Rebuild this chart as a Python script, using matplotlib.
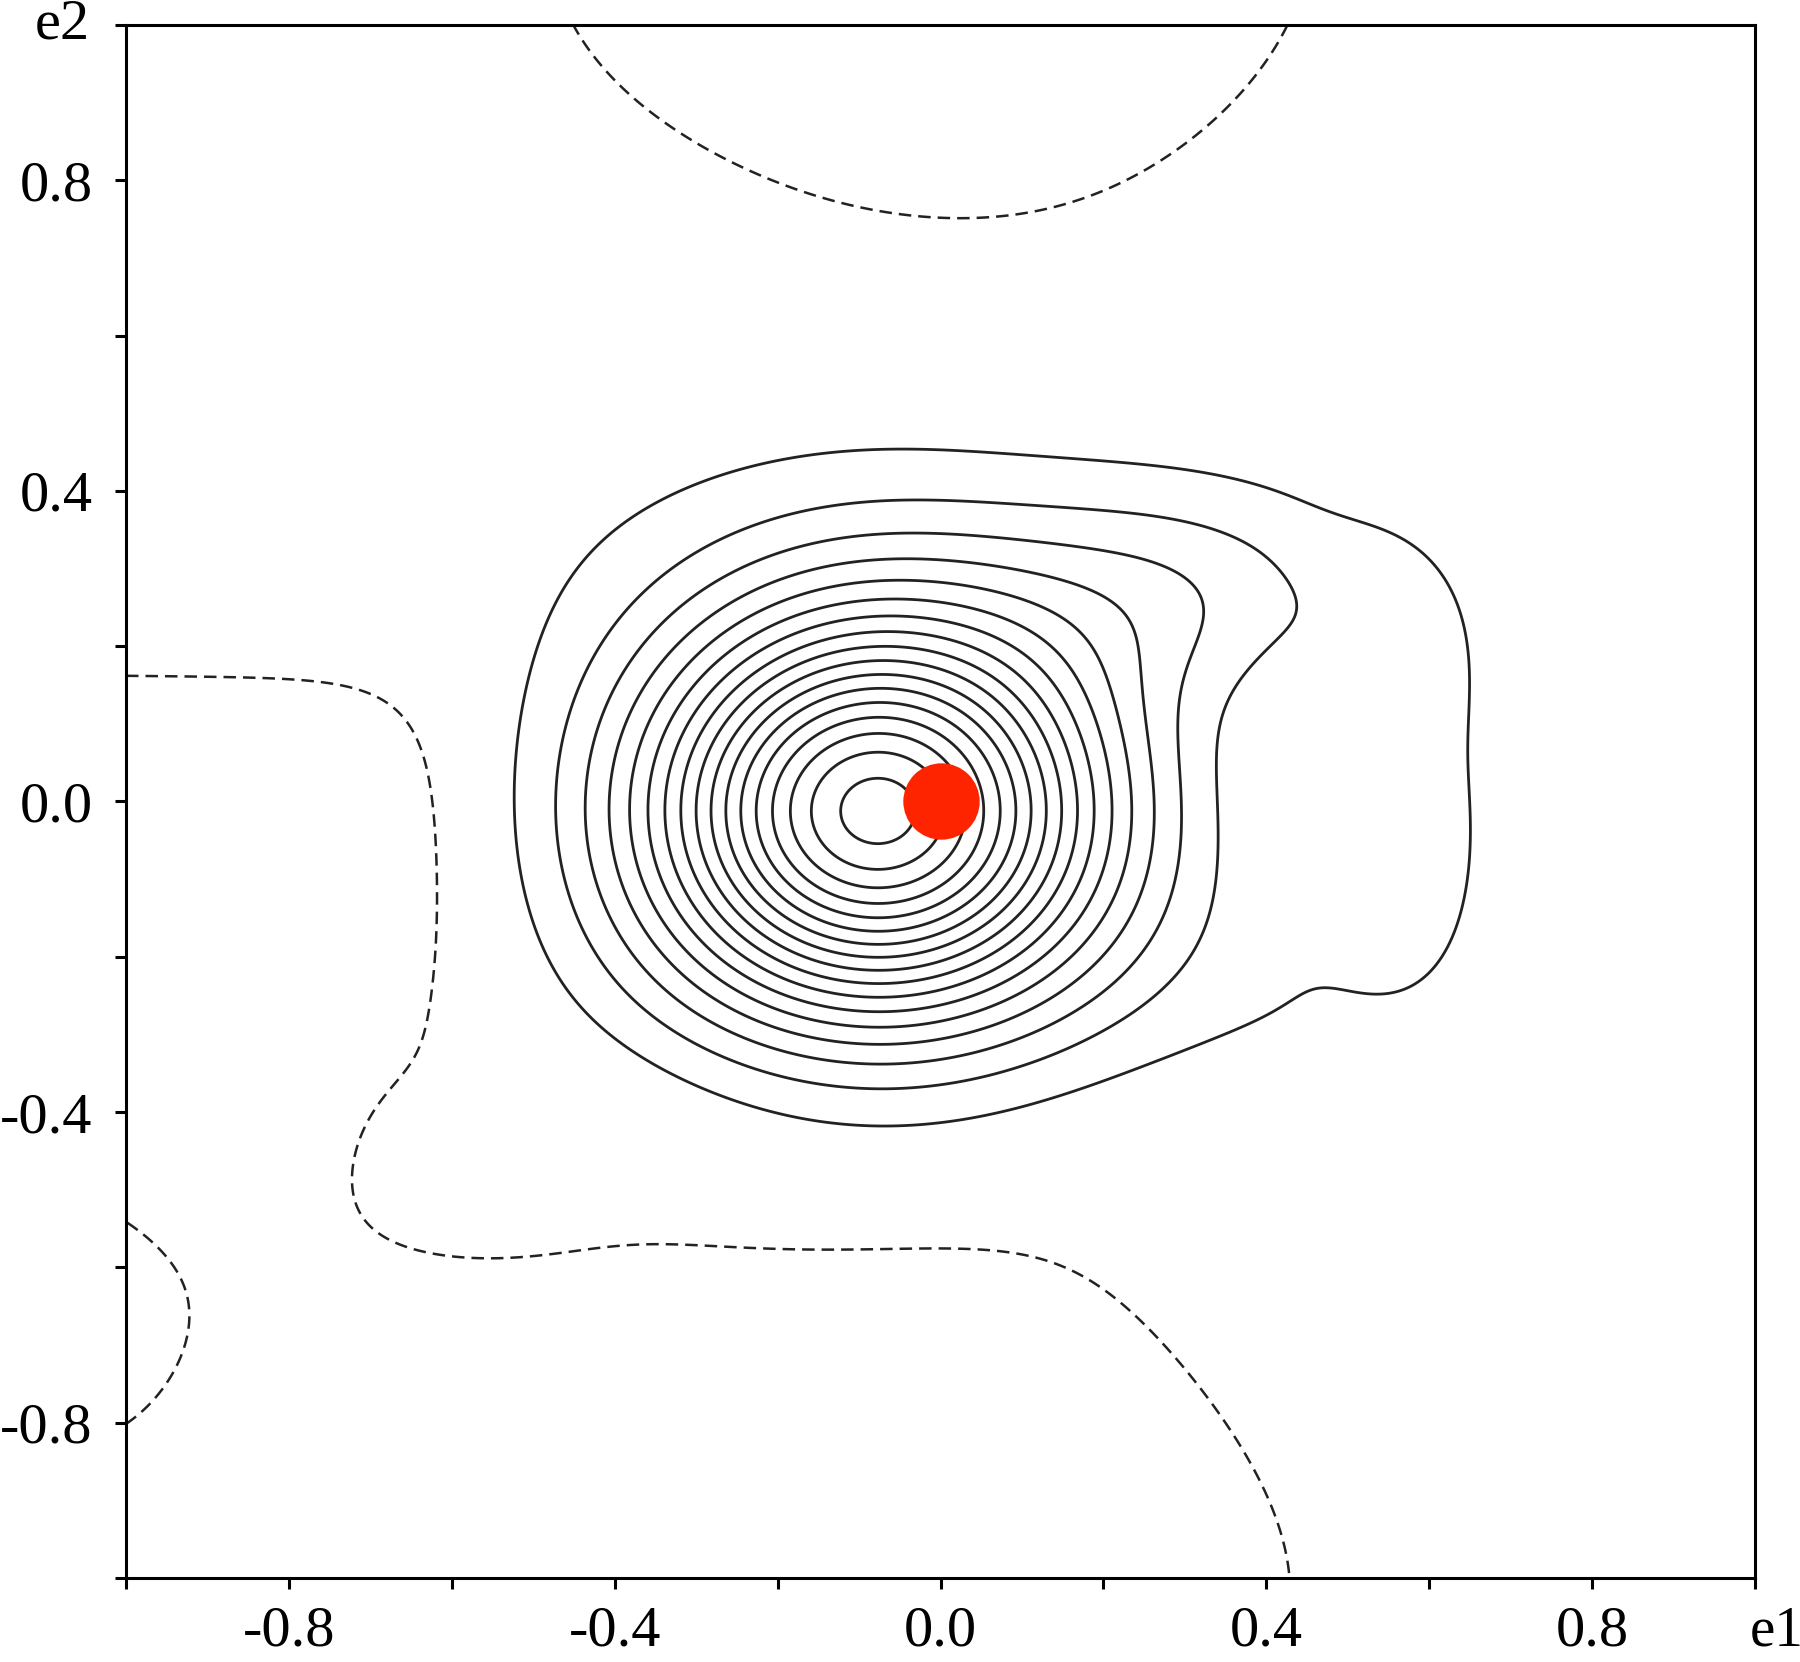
import numpy as np
import matplotlib
matplotlib.use("Agg")
import matplotlib.pyplot as plt

plt.rcParams['font.family'] = ['Liberation Serif', 'DejaVu Serif']

# ---- field description (sum of Gaussian-like components on the e1/e2 plane) ----
#            main    moat    B_ur   B_r    B_lr   B_top  N_bm   N_left   P_ul    N_top  N_bot  N_bot2 P_br  P_isl  N_ll    P_ll
comp_amp = [1.00,  -0.015,  0.12,  0.046, 0.028, 0.025, -0.02, -0.0467, 0.0437, -0.025, -0.03, -0.036, 0.03, 0.03, -0.025, 0.008]
comp_cx  = [-0.078, -0.078, 0.30, 0.57, 0.42, 0.00, -0.10, -1.10, -1.00, -0.01, -0.80, 0.10, 0.65, -1.05, -0.95, -0.60]
comp_cy  = [-0.013, -0.013, 0.27, 0.06, -0.22, 0.33, -0.38, 0.00, 0.40, 1.15, -0.95, -0.93, -0.55, -0.66, -0.42, -0.45]
comp_sx  = [0.195, 0.55, 0.17, 0.10, 0.18, 0.25, 0.30, 0.50, 0.45, 0.43, 0.35, 0.30, 0.28, 0.08, 0.12, 0.15]
comp_sy  = [0.178, 0.55, 0.10, 0.20, 0.12, 0.13, 0.08, 0.20, 0.20, 0.30, 0.30, 0.25, 0.28, 0.10, 0.12, 0.12]
comp_pow = [1, 1, 1, 2, 1, 1, 1, 1, 1, 1, 1, 1, 1, 1, 1, 1]
baseline = 0.015

level_step = 0.057
n_solid = 17
dashed_levels = [0.0]

dot_e1 = [0.0]
dot_e2 = [0.0]

tick_major = [-0.8, -0.4, 0.0, 0.4, 0.8]
tick_major_labels = ["-0.8", "-0.4", "0.0", "0.4", "0.8"]
tick_minor = [-1.0, -0.6, -0.2, 0.2, 0.6, 1.0]

# ---- grid ----
g = np.linspace(-1, 1, 701)
X, Y = np.meshgrid(g, g)
Z = np.full_like(X, baseline)
for a, x0, y0, sx, sy, p in zip(comp_amp, comp_cx, comp_cy, comp_sx, comp_sy, comp_pow):
    q = (X - x0) ** 2 / (2 * sx ** 2) + (Y - y0) ** 2 / (2 * sy ** 2)
    Z += a * np.exp(-q ** p)

solid_levels = level_step * np.arange(1, n_solid + 1)

fig = plt.figure(figsize=(18, 16.62), dpi=100)
ax = fig.add_axes([126 / 1800, 1 - 1578 / 1662, 1629 / 1800, 1553 / 1662])

ax.contour(X, Y, Z, levels=solid_levels, colors='#222222', linewidths=2.0, linestyles='solid')
ax.contour(X, Y, Z, levels=dashed_levels, colors='#222222', linewidths=1.8,
           linestyles=[(0, (5, 2.8))])

ax.plot(dot_e1, dot_e2, 'o', color='#ff2400', markersize=55, markeredgewidth=0, zorder=5)

ax.set_xlim(-1, 1)
ax.set_ylim(-1, 1)
for sp in ax.spines.values():
    sp.set_linewidth(2.2)
ax.set_xticks(tick_major)
ax.set_xticklabels(tick_major_labels)
ax.set_yticks(tick_major)
ax.set_yticklabels(tick_major_labels)
ax.set_xticks(tick_minor, minor=True)
ax.set_yticks(tick_minor, minor=True)
ax.tick_params(which='both', direction='out', length=8, width=2.2, labelsize=42)
ax.tick_params(axis='x', which='both', pad=12)
ax.tick_params(axis='y', which='both', pad=16)

ax.text(0.9935, -1.035, "e1", fontsize=41, ha='left', va='top')
ax.text(-1.044, 1.0, "e2", fontsize=42, ha='right', va='center')

fig.savefig("out.png", dpi=100)
